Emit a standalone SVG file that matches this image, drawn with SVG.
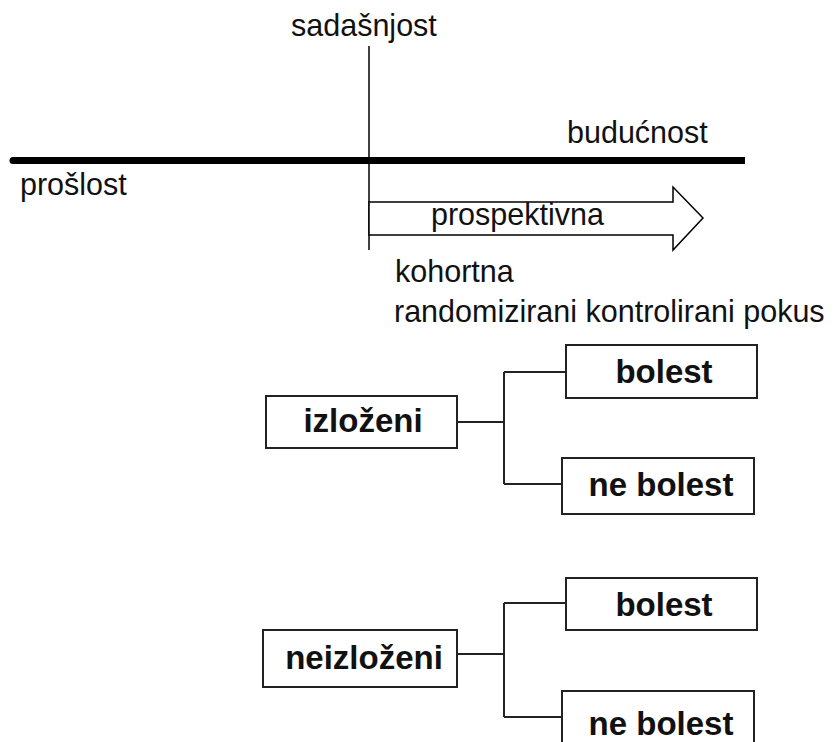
<svg xmlns="http://www.w3.org/2000/svg" width="834" height="742" viewBox="0 0 834 742">
<style>
  .t { font-family: "Liberation Sans", Arial, sans-serif; font-size: 30.5px; fill: #111; }
  .b { font-family: "Liberation Sans", Arial, sans-serif; font-size: 33px; font-weight: bold; fill: #111; text-anchor: middle; }
  .box { fill: #fff; stroke: #222; stroke-width: 2; }
  .conn { fill: none; stroke: #222; stroke-width: 2; }
</style>
<rect width="834" height="742" fill="#fff"/>
<g id="timeline">
  <path d="M13,160.5 H745" stroke="#000" stroke-width="7" stroke-linecap="butt"/>
  <circle cx="13" cy="160.5" r="3.5" fill="#000"/>
  <line x1="369" y1="46" x2="369" y2="250" stroke="#000" stroke-width="1.5"/>
  <polygon points="369,202 673,202 673,187 703,218 673,250 673,235 369,235" fill="#fff" stroke="#000" stroke-width="1.5"/>
  <text class="t" x="291" y="36">sadašnjost</text>
  <text class="t" x="567" y="143">budućnost</text>
  <text class="t" x="20" y="195">prošlost</text>
  <text class="t" x="431" y="225">prospektivna</text>
  <text class="t" x="395" y="282">kohortna</text>
  <text class="t" x="394" y="322">randomizirani kontrolirani pokus</text>
</g>
<g id="connectors">
  <path class="conn" d="M457,422 H504 M504,372 V484 M504,372 H566 M504,484 H562"/>
  <path class="conn" d="M457,654 H504 M504,603 V717 M504,603 H566 M504,717 H562"/>
</g>
<g id="izlozeni">
  <rect class="box" x="266" y="396" width="191" height="52"/>
  <text class="b" x="363" y="432">izloženi</text>
</g>
<g id="bolest1">
  <rect class="box" x="566" y="345" width="191" height="53"/>
  <text class="b" x="664" y="383">bolest</text>
</g>
<g id="nebolest1">
  <rect class="box" x="562" y="458" width="192" height="56"/>
  <text class="b" x="661" y="496">ne bolest</text>
</g>
<g id="neizlozeni">
  <rect class="box" x="263" y="630" width="194" height="57"/>
  <text class="b" x="364" y="669">neizloženi</text>
</g>
<g id="bolest2">
  <rect class="box" x="566" y="578" width="191" height="52"/>
  <text class="b" x="664" y="616">bolest</text>
</g>
<g id="nebolest2">
  <rect class="box" x="562" y="691" width="192" height="60"/>
  <text class="b" x="661" y="735">ne bolest</text>
</g>
</svg>
